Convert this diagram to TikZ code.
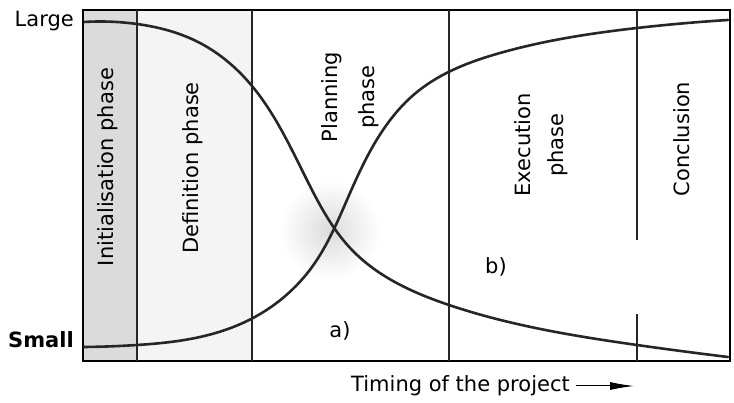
\documentclass[tikz,border=0pt]{standalone}
\usepackage{fontspec}
\setmainfont{DejaVu Sans}
\usetikzlibrary{arrows.meta,positioning,hobby}

\begin{document}
\begin{tikzpicture}[x=1pt,y=-1pt,
  lbl/.style={font=\fontsize{21}{25}\selectfont, inner sep=1pt},
  phasetxt/.style={lbl, rotate=90, align=center},
  divider/.style={line width=1.2pt, black!85},
  curve/.style={line width=2.6pt, black!85, line cap=round}]
\useasboundingbox (0,0) rectangle (734,403);
% shaded columns and the fog round the crossing
\fill[gray!28] (83,10) rectangle (137,361);
\fill[gray!9] (137,10) rectangle (252,361);
\shade[inner color=gray!28, outer color=white] (330,230) circle (50);
% frame and phase borders
\draw[line width=1.6pt] (83,10) rectangle (730,361);
\foreach \x in {137,252,449}
  \draw[divider] (\x,10) -- (\x,361);
\draw[divider] (637,10) -- (637,240) (637,314) -- (637,361);
% the two curves
\draw[curve] (84,22) to[curve through={(137,24) (200,43) (252,86) (312,190) (352,250) (449,305) (637,345)}] (728,357);
\draw[curve] (84,347) to[curve through={(137,345) (200,337) (253,318) (312,267) (350,193) (417,92) (500,53) (637,28)}] (728,20);
% axis labels
\node[lbl, anchor=east] (large) at (75,21) {Large};
\node[lbl, anchor=east] (small) at (75,340) {\bfseries Small};
% phase names
\node[phasetxt] (init) at (108,167) {Initialisation phase};
\node[phasetxt] (defin) at (193,168) {Definition phase};
\node[phasetxt] (plan) at (350,97) {Planning\\[12pt]phase};
\node[phasetxt] (exec) at (541,145) {Execution\\[8pt]phase};
\node[phasetxt] (concl) at (682,139) {Conclusion};
% curve marks
\node[lbl] (a) at (340,331) {a)};
\node[lbl] (b) at (496,267) {b)};
% time axis
\node[lbl, anchor=west] (timing) at (350,386) {Timing of the project};
\coordinate (tip) at (634,386);
\draw[line width=1pt, -{Latex[length=24pt,width=8pt]}, shorten <=5pt] (timing.east) -- (tip);
\end{tikzpicture}
\end{document}
